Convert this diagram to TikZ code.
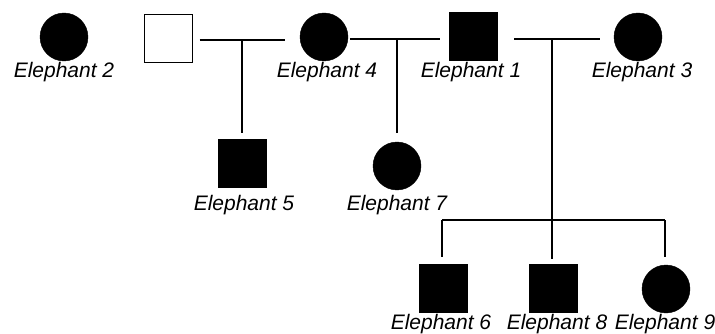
\documentclass[tikz,border=0pt]{standalone}
\usepackage{fontspec}
\setmainfont{Liberation Sans}
\usetikzlibrary{calc}
\begin{document}
\begin{tikzpicture}[x=1pt,y=-1pt,
  fem/.style={circle,fill=black,draw=black,minimum size=48pt,inner sep=0pt},
  mal/.style={rectangle,fill=black,draw=black,minimum size=48pt,inner sep=0pt},
  unk/.style={rectangle,fill=white,draw=black,line width=1pt,minimum size=48pt,inner sep=0pt},
  lbl/.style={anchor=base,inner sep=0pt,font=\fontsize{21}{21}\selectfont\itshape},
  link/.style={line width=2pt}]
\useasboundingbox (0,0) rectangle (715,334);
% top row
\node[fem] (e2) at (64,37) {};
\node[unk] (u) at (168,39) {};
\node[fem] (e4) at (324,37) {};
\node[mal] (e1) at (473,36) {};
\node[fem] (e3) at (638,37) {};
% second row
\node[mal] (e5) at (242,163) {};
\node[fem] (e7) at (397,166) {};
% bottom row
\node[mal] (e6) at (443,288) {};
\node[mal] (e8) at (553,288) {};
\node[fem] (e9) at (666,289) {};
% labels
\node[lbl] (l2) at (64,78) {Elephant 2};
\node[lbl] (l4) at (327,78) {Elephant 4};
\node[lbl] (l1) at (471,78) {Elephant 1};
\node[lbl] (l3) at (642,78) {Elephant 3};
\node[lbl] (l5) at (244,210) {Elephant 5};
\node[lbl] (l7) at (397,210) {Elephant 7};
\node[lbl] (l6) at (441,329) {Elephant 6};
\node[lbl] (l8) at (557,329) {Elephant 8};
\node[lbl] (l9) at (665,329) {Elephant 9};
% marriage lines
\coordinate (m1) at (242,40);
\coordinate (m2) at (397,39);
\coordinate (m3) at (552,39);
\draw[link] ($(u.east |- m1)+(7,0)$) -- ($(e4.west |- m1)+(-15,0)$);
\draw[link] ($(e4.east |- m2)+(2,0)$) -- ($(e1.west |- m2)+(-9,0)$);
\draw[link] ($(e1.east |- m3)+(17,0)$) -- ($(e3.west |- m3)+(-14,0)$);
% descent lines
\draw[link] (m1) -- ($(e5.north)+(0,-6)$);
\draw[link] (m2) -- ($(e7.north)+(0,-9)$);
\coordinate (s) at (552,220);
\coordinate (sl) at (442,220);
\coordinate (sr) at (665,220);
\draw[link] (m3) -- (s);
\draw[link] (sl) -- (sr);
\draw[link] (s) -- ($(e8.north)+(-1,-5)$);
\draw[link] (sl) -- ($(e6.north)+(-1,-7)$);
\draw[link] (sr) -- ($(e9.north)+(-1,-8)$);
\end{tikzpicture}
\end{document}
